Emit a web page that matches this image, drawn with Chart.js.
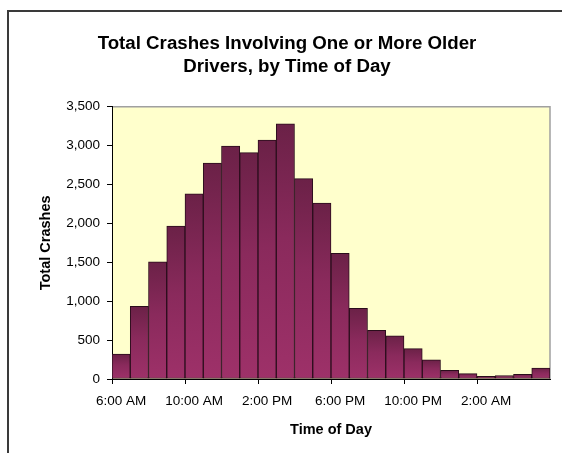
<!DOCTYPE html>
<html>
<head>
<meta charset="utf-8">
<style>
  html, body { margin: 0; padding: 0; background: #fff; }
  #chart { display: block; }
</style>
<script src="https://cdn.jsdelivr.net/npm/chart.js@4/dist/chart.umd.min.js"></script>
</head>
<body>
<canvas id="chart" width="562" height="453"></canvas>
<script>
// hourly buckets, starting at 6 AM
const hourLabels = [
    '6:00 AM', '7:00 AM', '8:00 AM', '9:00 AM', '10:00 AM', '11:00 AM',
    '12:00 PM', '1:00 PM', '2:00 PM', '3:00 PM', '4:00 PM', '5:00 PM',
    '6:00 PM', '7:00 PM', '8:00 PM', '9:00 PM', '10:00 PM', '11:00 PM',
    '12:00 AM', '1:00 AM', '2:00 AM', '3:00 AM', '4:00 AM', '5:00 AM'
];
const crashCounts = [
    320, 935, 1505, 1965, 2380, 2775,
    2995, 2910, 3070, 3280, 2575, 2260,
    1615, 910, 625, 555, 390, 245,
    110, 70, 35, 45, 60, 140
];
const titleLines = ['Total Crashes Involving One or More Older', 'Drivers, by Time of Day'];

const fontFamily = '"Liberation Sans", Arial, Helvetica, sans-serif';

const fondoGrafico = {
    id: 'fondoGrafico',
    beforeDraw(chart) {
        const { ctx, chartArea } = chart;
        ctx.save();
        ctx.fillStyle = '#ffffff';
        ctx.fillRect(0, 0, chart.width, chart.height);

        // outer frame (only left and top visible)
        ctx.strokeStyle = '#3a3a3a';
        ctx.lineWidth = 2;
        ctx.beginPath();
        ctx.moveTo(8, chart.height);
        ctx.lineTo(8, 11);
        ctx.lineTo(chart.width, 11);
        ctx.stroke();

        ctx.fillStyle = '#ffffcc';
        ctx.fillRect(chartArea.left, chartArea.top, chartArea.right - chartArea.left, chartArea.bottom - chartArea.top);

        ctx.strokeStyle = '#a0a0a0';
        ctx.lineWidth = 1.5;
        ctx.beginPath();
        ctx.moveTo(chartArea.left, chartArea.top);
        ctx.lineTo(chartArea.right, chartArea.top);
        ctx.lineTo(chartArea.right, chartArea.bottom);
        ctx.stroke();
        ctx.restore();
    }
};

function degradadoBarra(context) {
    const chart = context.chart;
    const { chartArea, scales } = chart;
    if (!chartArea || context.type !== 'data') return '#8a2a5b';
    const yTop = scales.y.getPixelForValue(context.raw);
    const yBase = scales.y.getPixelForValue(0);
    const g = chart.ctx.createLinearGradient(0, yTop, 0, yBase);
    g.addColorStop(0, '#6b2147');
    g.addColorStop(0.45, '#8a2a5c');
    g.addColorStop(1, '#9e3169');
    return g;
}

new Chart(document.getElementById('chart'), {
    type: 'bar',
    data: {
        labels: hourLabels,
        datasets: [{
            data: crashCounts,
            backgroundColor: degradadoBarra,
            borderColor: '#2a0d1b',
            borderWidth: 1,
            borderSkipped: false,
            barPercentage: 1,
            categoryPercentage: 1
        }]
    },
    options: {
        responsive: false,
        animation: false,
        devicePixelRatio: 1,
        layout: { padding: { left: 24, right: 12, top: 0, bottom: 0 } },
        plugins: {
            legend: { display: false },
            tooltip: { enabled: false },
            title: {
                display: true,
                text: titleLines,
                color: '#000',
                font: { family: fontFamily, size: 18.7, weight: 'bold', lineHeight: 1.25 },
                padding: { top: 32, bottom: 28 }
            }
        },
        scales: {
            x: {
                afterFit(scale) { scale.height = 74; },
                grid: {
                    offset: true,
                    drawOnChartArea: false,
                    tickLength: 5,
                    color: (ctx) => (ctx.index % 4 === 0 ? '#000' : 'rgba(0,0,0,0)')
                },
                border: { color: '#000', width: 1 },
                ticks: {
                    autoSkip: false,
                    maxRotation: 0,
                    minRotation: 0,
                    padding: 9,
                    color: '#000',
                    font: { family: fontFamily, size: 13.5 },
                    callback(value, index) {
                        return index % 4 === 0 ? hourLabels[index] : '';
                    }
                },
                title: {
                    display: true,
                    text: 'Time of Day',
                    color: '#000',
                    font: { family: fontFamily, size: 14.5, weight: 'bold' },
                    padding: { top: 0, bottom: 14 }
                }
            },
            y: {
                min: 0,
                max: 3500,
                afterFit(scale) { scale.width = 88; },
                grid: {
                    drawOnChartArea: false,
                    tickLength: 5,
                    color: '#000'
                },
                border: { color: '#000', width: 1 },
                ticks: {
                    stepSize: 500,
                    padding: 7,
                    color: '#000',
                    font: { family: fontFamily, size: 13.5 },
                    callback: (v) => Number(v).toLocaleString('en-US')
                },
                title: {
                    display: true,
                    text: 'Total Crashes',
                    color: '#000',
                    font: { family: fontFamily, size: 14.5, weight: 'bold' },
                    padding: { top: 13, bottom: 0 }
                }
            }
        }
    },
    plugins: [fondoGrafico]
});
</script>
</body>
</html>
